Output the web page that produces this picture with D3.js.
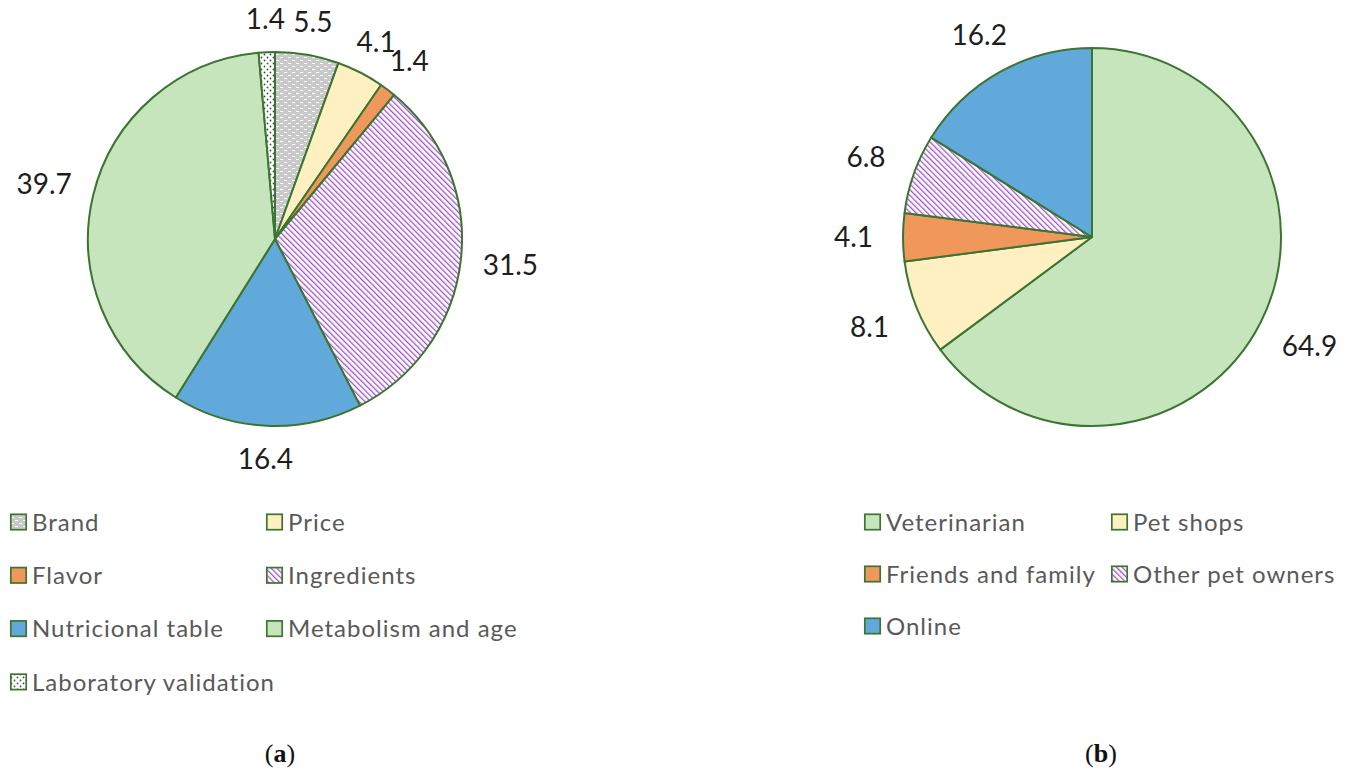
<!DOCTYPE html>
<html>
<head>
<meta charset="utf-8">
<script src="https://cdn.jsdelivr.net/npm/d3@7"></script>
<style>
  body { margin: 0; background: #fff; }
  svg { display: block; }
</style>
</head>
<body>
<script>
// Two pies: (a) purchase criteria, (b) sources of information

const categoriesA = ["Brand", "Price", "Flavor", "Ingredients", "Nutricional table", "Metabolism and age", "Laboratory validation"];
const valuesA = [5.5, 4.1, 1.4, 31.5, 16.4, 39.7, 1.4];
const fillsA = ["url(#pGray)", "#fff0c2", "#f0975c", "url(#pPurple)", "#62a9db", "#c7e5bd", "url(#pDots)"];

const categoriesB = ["Veterinarian", "Pet shops", "Friends and family", "Other pet owners", "Online"];
const valuesB = [64.9, 8.1, 4.1, 6.8, 16.2];
const fillsB = ["#c7e5bd", "#fff0c2", "#f0975c", "url(#pPurple)", "#62a9db"];

const captions = ["a", "b"];

const width = 1351, height = 774;
const edge = "#3c7431";

const svg = d3.select("body").append("svg")
    .attr("width", width)
    .attr("height", height);

svg.append("rect").attr("width", width).attr("height", height).attr("fill", "#fff");

const defs = svg.append("defs");

// gray with little white dashes
const pg = defs.append("pattern").attr("id", "pGray")
    .attr("patternUnits", "userSpaceOnUse").attr("width", 8).attr("height", 6);
pg.append("rect").attr("width", 8).attr("height", 6).attr("fill", "#c9c9c9");
pg.append("rect").attr("x", 1).attr("y", 1).attr("width", 3).attr("height", 1).attr("fill", "#fff");
pg.append("rect").attr("x", 5).attr("y", 4).attr("width", 3).attr("height", 1).attr("fill", "#fff");

// purple diagonal stripes
const pp = defs.append("pattern").attr("id", "pPurple")
    .attr("patternUnits", "userSpaceOnUse").attr("width", 4).attr("height", 8)
    .attr("patternTransform", "rotate(-45)");
pp.append("rect").attr("width", 4).attr("height", 8).attr("fill", "#fff");
pp.append("rect").attr("width", 1.3).attr("height", 8).attr("fill", "#a052cc");

// white with dark dots
const pd = defs.append("pattern").attr("id", "pDots")
    .attr("patternUnits", "userSpaceOnUse").attr("width", 6).attr("height", 6);
pd.append("rect").attr("width", 6).attr("height", 6).attr("fill", "#fff");
pd.append("circle").attr("cx", 1.5).attr("cy", 1.5).attr("r", 0.9).attr("fill", "#34503a");
pd.append("circle").attr("cx", 4.5).attr("cy", 4.5).attr("r", 0.9).attr("fill", "#34503a");

const pie = d3.pie().sort(null).value(d => d);

function drawPie(cx, cy, r, values, fills, pad) {
    const g = svg.append("g").attr("transform", `translate(${cx},${cy})`);
    const arc = d3.arc().innerRadius(0).outerRadius(r);
    const arcs = pie(values);

    g.selectAll("path.slice")
        .data(arcs)
        .join("path")
        .attr("class", "slice")
        .attr("d", arc)
        .attr("fill", (d, i) => fills[i])
        .attr("stroke", edge)
        .attr("stroke-width", 2)
        .attr("stroke-linejoin", "round");

    // outside-end labels, pushed out so the box clears the rim
    g.selectAll("text.val")
        .data(arcs)
        .join("text")
        .attr("class", "val")
        .attr("text-anchor", "middle")
        .attr("dy", "0.36em")
        .style("font-family", "Lato, 'Open Sans', sans-serif")
        .style("font-size", "28px")
        .attr("fill", "#1e1e1e")
        .text(d => d3.format(".1f")(d.data))
        .each(function (d) {
            const w = this.getComputedTextLength(), h = 22;
            const a = (d.startAngle + d.endAngle) / 2;
            const sx = Math.sin(a), sy = -Math.cos(a);
            const dx = Math.abs(sx) > 1e-6 ? w / 2 / Math.abs(sx) : Infinity;
            const dy = Math.abs(sy) > 1e-6 ? h / 2 / Math.abs(sy) : Infinity;
            const dist = r + pad + Math.min(dx, dy);
            d3.select(this).attr("x", sx * dist).attr("y", sy * dist);
        });
}

drawPie(275, 239, 187, valuesA, fillsA, 22);
drawPie(1092, 237, 189, valuesB, fillsB, 30);

function drawLegend(x0, y0, colW, rowH, names, fills) {
    const g = svg.append("g");
    const items = g.selectAll("g.item")
        .data(names)
        .join("g")
        .attr("class", "item")
        .attr("transform", (d, i) => `translate(${x0 + (i % 2) * colW},${y0 + Math.floor(i / 2) * rowH})`);
    items.append("rect")
        .attr("x", 0.8).attr("y", -7.7)
        .attr("width", 15.4).attr("height", 15.4)
        .attr("fill", (d, i) => fills[i])
        .attr("stroke", edge)
        .attr("stroke-width", 1.7);
    items.append("text")
        .attr("x", 22)
        .attr("dy", "0.36em")
        .style("font-family", "Lato, 'Open Sans', sans-serif")
        .style("font-size", "24px")
        .style("letter-spacing", "1px")
        .attr("fill", "#595959")
        .text(d => d);
}

drawLegend(10, 522, 256, 53.3, categoriesA, fillsA);
drawLegend(864, 522, 247, 52, categoriesB, fillsB);

// (a) and (b) captions
[[280, captions[0]], [1101, captions[1]]].forEach(([x, c]) => {
    const t = svg.append("text")
        .attr("x", x).attr("y", 762)
        .attr("text-anchor", "middle")
        .style("font-family", "'Liberation Serif', 'DejaVu Serif', serif")
        .style("font-size", "26px")
        .attr("fill", "#111");
    t.append("tspan").text("(");
    t.append("tspan").style("font-weight", "bold").text(c);
    t.append("tspan").text(")");
});
</script>
</body>
</html>
